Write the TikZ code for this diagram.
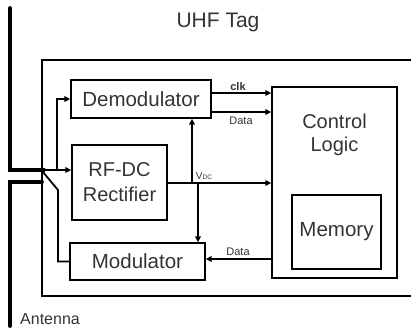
\documentclass[tikz,border=0pt]{standalone}
\usepackage{fontspec}
\setmainfont{Liberation Sans}
\usetikzlibrary{arrows.meta}
\begin{document}
\begin{tikzpicture}[x=1pt,y=-1pt,
  blk/.style={draw=black,line width=1.3pt,inner sep=0pt,text=black!80},
  big/.style={font=\fontsize{20.5}{24}\selectfont},
  sig/.style={line width=1.8pt,-{Triangle[length=6pt,width=5.5pt]}},
  wire/.style={line width=1.8pt},
  ant/.style={line width=3.8pt,line cap=round},
  lbl/.style={text=black!80,inner sep=0pt,font=\fontsize{11}{12}\selectfont}]
\useasboundingbox (0,0) rectangle (411,330);

% outer tag box (cut at right edge)
\coordinate (o1) at (411,60);
\coordinate (o2) at (42,60);
\coordinate (o3) at (42,296);
\coordinate (o4) at (411,296);
\draw[line width=1.8pt] (o1) -- (o2) -- (o3) -- (o4);

% blocks
\node[blk,big,minimum width=140pt,minimum height=38pt] (demod) at (141,99) {Demodulator};
\node[blk,minimum width=95pt,minimum height=75pt,align=center,font=\fontsize{20}{25}\selectfont] (rect) at (119.5,182.5) {RF-DC\\Rectifier};
\node[blk,big,minimum width=135pt,minimum height=37pt] (mod) at (137.5,261.5) {Modulator};
\node[blk,minimum width=125pt,minimum height=191pt] (ctrl) at (334.5,182.5) {};
\node[text=black!80,align=center,font=\fontsize{20}{23}\selectfont] (ctrltxt) at (334.5,135) {Control\\Logic};
\node[blk,big,minimum width=89pt,minimum height=74pt] (mem) at (336.5,232) {Memory};

% texts
\node[text=black!80,font=\fontsize{21}{24}\selectfont] (title) at (218,22) {UHF Tag};
\node[text=black!80,font=\fontsize{16}{18}\selectfont] (antlbl) at (50,319) {Antenna};

% helper coordinates
\coordinate (clkY) at (0,93);
\coordinate (datY) at (0,112);
\coordinate (vdcY) at (0,183);
\coordinate (mdY) at (0,259);
\coordinate (vup) at (192,183);
\coordinate (vdn) at (198,183);

% signals demod -> control
\draw[sig] (demod.east |- clkY) -- (ctrl.west |- clkY);
\draw[sig] (demod.east |- datY) -- (ctrl.west |- datY);
\node[lbl,font=\fontsize{11}{12}\selectfont\bfseries] (clk) at (238,87) {clk};
\node[lbl] (dat1) at (241,121) {Data};

% Vdc
\draw[sig] (rect.east |- vdcY) -- (ctrl.west |- vdcY);
\draw[sig] (vup) -- (vup |- demod.south);
\draw[sig] (vdn) -- (vdn |- mod.north);
\node[lbl,font=\fontsize{10}{12}\selectfont] (vdc) at (204,176) {V{\fontsize{6.5}{8}\selectfont DC}};

% control -> modulator
\draw[sig] (ctrl.west |- mdY) -- (mod.east |- mdY);
\node[lbl] (dat2) at (238,252) {Data};

% antenna
\coordinate (a1) at (10,8);
\coordinate (a2) at (10,170);
\coordinate (j) at (44,170);
\coordinate (b1) at (10,326);
\coordinate (b2) at (10,182);
\coordinate (b3) at (42,182);
\draw[ant,line join=miter] (a1) -- (a2) -- (j);
\draw[ant,line join=miter] (b1) -- (b2) -- (b3);

% feed to rectifier and demodulator
\coordinate (br) at (57,170);
\draw[sig] (j) -- (rect.west |- j);
\draw[sig] (br) |- (demod.west);

% switch to modulator
\coordinate (s1) at (43,172);
\coordinate (s2) at (58,190);
\draw[wire] (s1) -- (s2) |- (mod.west);
\end{tikzpicture}
\end{document}
